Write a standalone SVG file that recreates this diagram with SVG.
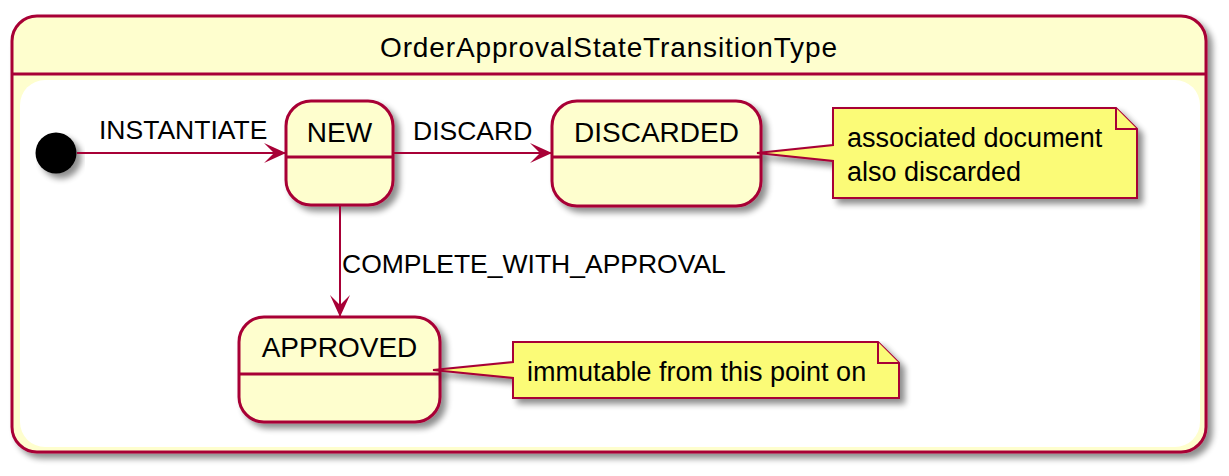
<svg xmlns="http://www.w3.org/2000/svg" width="1229" height="476" viewBox="0 0 1229 476">
<style>
text{font-family:"Liberation Sans",Arial,sans-serif;fill:#000}
.state{fill:#FEFECE;stroke:#A80036;stroke-width:3}
.div{stroke:#A80036;stroke-width:3}
.sname{font-size:28px;text-anchor:middle}
.lbl{font-size:26.5px}
.note{fill:#FBFB77;stroke:#A80036;stroke-width:2}
.ntxt{font-size:27px}
.edge{stroke:#A80036;stroke-width:2;fill:none}
</style>
<defs>
<filter id="sh" x="-10%" y="-10%" width="130%" height="140%">
<feGaussianBlur in="SourceAlpha" stdDeviation="3"/>
<feOffset dx="5" dy="5" result="o"/>
<feComponentTransfer><feFuncA type="linear" slope="0.45"/></feComponentTransfer>
<feMerge><feMergeNode/><feMergeNode in="SourceGraphic"/></feMerge>
</filter>
<marker id="arr" viewBox="0 0 22 20" refX="22" refY="10" markerWidth="22" markerHeight="20" markerUnits="userSpaceOnUse" orient="auto">
<path d="M0,0 L22,10 L0,20 L10,10 Z" fill="#A80036"/>
</marker>
</defs>
<rect width="1229" height="476" fill="#fff"/>
<g id="OrderApprovalStateTransitionType">
<rect x="12" y="16" width="1194" height="436" rx="25" class="state" filter="url(#sh)"/>
<line x1="12" y1="74" x2="1206" y2="74" class="div"/>
<rect x="20" y="80" width="1180" height="367" rx="25" fill="#fff"/>
<text x="608.5" y="57" class="sname" textLength="457" lengthAdjust="spacing">OrderApprovalStateTransitionType</text>
</g>
<g id="start">
<circle cx="56" cy="153" r="20.5" fill="#000" filter="url(#sh)"/>
</g>
<g id="NEW">
<rect x="286" y="101" width="107" height="104" rx="25" class="state" filter="url(#sh)"/>
<line x1="286" y1="157" x2="393" y2="157" class="div"/>
<text x="339.5" y="142" class="sname">NEW</text>
</g>
<g id="DISCARDED">
<rect x="552" y="101" width="209" height="105" rx="25" class="state" filter="url(#sh)"/>
<line x1="552" y1="157" x2="761" y2="157" class="div"/>
<text x="656.5" y="142" class="sname">DISCARDED</text>
</g>
<g id="APPROVED">
<rect x="239" y="317" width="201" height="105" rx="25" class="state" filter="url(#sh)"/>
<line x1="239" y1="374" x2="440" y2="374" class="div"/>
<text x="339.5" y="357" class="sname">APPROVED</text>
</g>
<g id="note1">
<path d="M833,108 L1116,108 L1137,129 L1137,198 L833,198 L833,161 L757,153 L833,145 Z" class="note" filter="url(#sh)"/>
<path d="M1116,108 L1116,129 L1137,129" class="note"/>
<text x="847" y="147" class="ntxt">associated document</text>
<text x="847" y="181" class="ntxt">also discarded</text>
</g>
<g id="note2">
<path d="M513,342 L878,342 L899,363 L899,398 L513,398 L513,378 L433,370 L513,362 Z" class="note" filter="url(#sh)"/>
<path d="M878,342 L878,363 L899,363" class="note"/>
<text x="527" y="381" class="ntxt">immutable from this point on</text>
</g>
<g id="connectors">
<line x1="77" y1="153" x2="286" y2="153" class="edge" marker-end="url(#arr)"/>
<text x="99" y="139" class="lbl">INSTANTIATE</text>
<line x1="393" y1="153" x2="552" y2="153" class="edge" marker-end="url(#arr)"/>
<text x="413" y="140" class="lbl">DISCARD</text>
<line x1="340" y1="205" x2="340" y2="317" class="edge" marker-end="url(#arr)"/>
<text x="342" y="273" class="lbl">COMPLETE_WITH_APPROVAL</text>
</g>
</svg>
